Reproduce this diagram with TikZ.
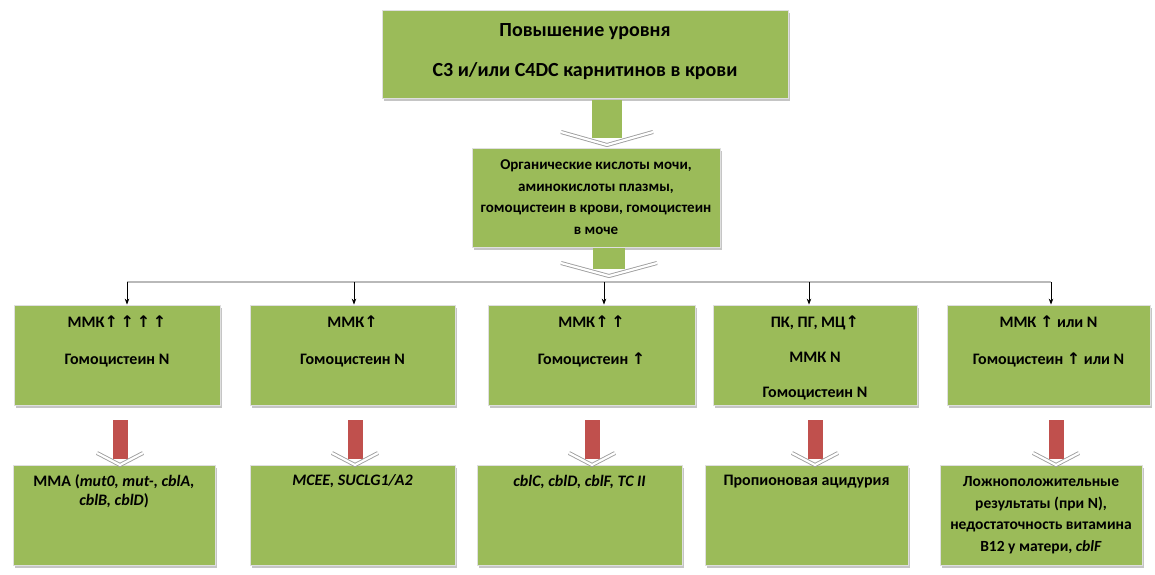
\documentclass[tikz,border=0pt]{standalone}
\usepackage{fontspec}
\setmainfont{Carlito}
\newfontfamily\arrowfont{DejaVu Sans}
\usetikzlibrary{positioning, arrows.meta, shadows}
\definecolor{boxgreen}{HTML}{9BBB59}
\definecolor{arrowred}{HTML}{C0504D}
\newcommand{\upar}{{\arrowfont ↑}}

\begin{document}
\begin{tikzpicture}[x=1pt, y=-1pt]
    \tikzset{
      box/.style={
        rectangle, draw=white!75!gray, line width=0.8pt, fill=boxgreen,
        drop shadow={shadow xshift=1.5pt, shadow yshift=-2.5pt, fill=black!45}
      },
      txt/.style={align=center, inner sep=0pt, font=\bfseries\fontsize{16}{19}\selectfont},
      feed/.style={-{Stealth[length=6pt,width=4.5pt]}, black, line width=0.8pt},
      pics/blockdown/.style n args={5}{code={
        \fill[#1] (-#2,0) rectangle (#2,#3+6);
        \draw[gray!75, double=white, double distance=2.2pt, line join=round, line width=0.9pt]
          (-#4,#3) -- (0,#3+#5) -- (#4,#3);
      }}
    }
    \useasboundingbox (0,0) rectangle (1155,574);

    % Top
    \node[box, minimum width=406pt, minimum height=88pt] (top) at (585,54) {};
    \node[txt, font=\bfseries\fontsize{20}{22}\selectfont, below=14pt of top.north] (toptxt)
      {Повышение уровня\\[18pt]C3 и/или C4DC карнитинов в крови};
    \pic at (607,100) {blockdown={boxgreen}{15}{32}{46}{13}};

    % Middle
    \node[box, minimum width=248pt, minimum height=99pt] (mid) at (596,197.5) {};
    \node[txt, font=\bfseries\fontsize{15}{21.5}\selectfont, below=12pt of mid.north] (midtxt)
      {Органические кислоты мочи,\\аминокислоты плазмы,\\гомоцистеин в крови, гомоцистеин\\в моче};
    \pic at (609,248) {blockdown={boxgreen}{16}{15}{48}{13}};

    % Bus
    \coordinate (d1) at (127,282);
    \coordinate (d2) at (354,282);
    \coordinate (d3) at (604,282);
    \coordinate (d4) at (809,282);
    \coordinate (d5) at (1051,282);
    \draw[gray!55, line width=2.5pt] (d1) -- (d5);

    % Row 1
    \node[box, minimum width=206pt, minimum height=100pt] (r1) at (117,355) {};
    \node[box, minimum width=205pt, minimum height=100pt] (r2) at (352.5,355) {};
    \node[box, minimum width=207pt, minimum height=100pt] (r3) at (591.5,355) {};
    \node[box, minimum width=204pt, minimum height=100pt] (r4) at (815,355) {};
    \node[box, minimum width=203pt, minimum height=100pt] (r5) at (1048.5,355) {};

    \node[txt, below=11pt of r1.north] (r1txt) {ММК\upar\,\upar\,\upar\,\upar\\[18pt]Гомоцистеин N};
    \node[txt, below=11pt of r2.north] (r2txt) {ММК\upar\\[18pt]Гомоцистеин N};
    \node[txt, below=11pt of r3.north] (r3txt) {ММК\upar\,\upar\\[18pt]Гомоцистеин \upar};
    \node[txt, below=11pt of r4.north] (r4txt) {ПК, ПГ, МЦ\upar\\[16pt]ММК N\\[16pt]Гомоцистеин N};
    \node[txt, below=11pt of r5.north] (r5txt) {ММК \upar{} или N\\[18pt]Гомоцистеин \upar{} или N};

    \draw[feed] (d1) -- (d1 |- r1.north);
    \draw[feed] (d2) -- (d2 |- r2.north);
    \draw[feed] (d3) -- (d3 |- r3.north);
    \draw[feed] (d4) -- (d4 |- r4.north);
    \draw[feed] (d5) -- (d5 |- r5.north);

    % Row 2
    \node[box, minimum width=202pt, minimum height=100pt] (g1) at (114,515) {};
    \node[box, minimum width=205pt, minimum height=100pt] (g2) at (352.5,515) {};
    \node[box, minimum width=205pt, minimum height=100pt] (g3) at (579.5,515) {};
    \node[box, minimum width=203pt, minimum height=100pt] (g4) at (806.5,515) {};
    \node[box, minimum width=202pt, minimum height=100pt] (g5) at (1041,515) {};

    \node[txt, below=10pt of g1.north] (g1txt) {MMA (\textit{mut0, mut-, cblA,}\\\textit{cblB, cblD})};
    \node[txt, below=10pt of g2.north] (g2txt) {\textit{MCEE, SUCLG1/A2}};
    \node[txt, below=10pt of g3.north] (g3txt) {\textit{cblC, cblD, cblF, TC II}};
    \node[txt, below=10pt of g4.north] (g4txt) {Пропионовая ацидурия};
    \node[txt, font=\bfseries\fontsize{15.5}{21.5}\selectfont] (g5txt) at (g5.center)
      {Ложноположительные\\результаты (при N),\\недостаточность витамина\\B12 у матери, \textit{cblF}};

    % Red arrows
    \pic at (120,420) {blockdown={arrowred}{7.5}{33}{23}{12}};
    \pic at (355,420) {blockdown={arrowred}{7.5}{33}{23}{12}};
    \pic at (592,420) {blockdown={arrowred}{7.5}{33}{23}{12}};
    \pic at (815,420) {blockdown={arrowred}{7.5}{33}{23}{12}};
    \pic at (1056,420) {blockdown={arrowred}{7.5}{33}{23}{12}};
\end{tikzpicture}
\end{document}
